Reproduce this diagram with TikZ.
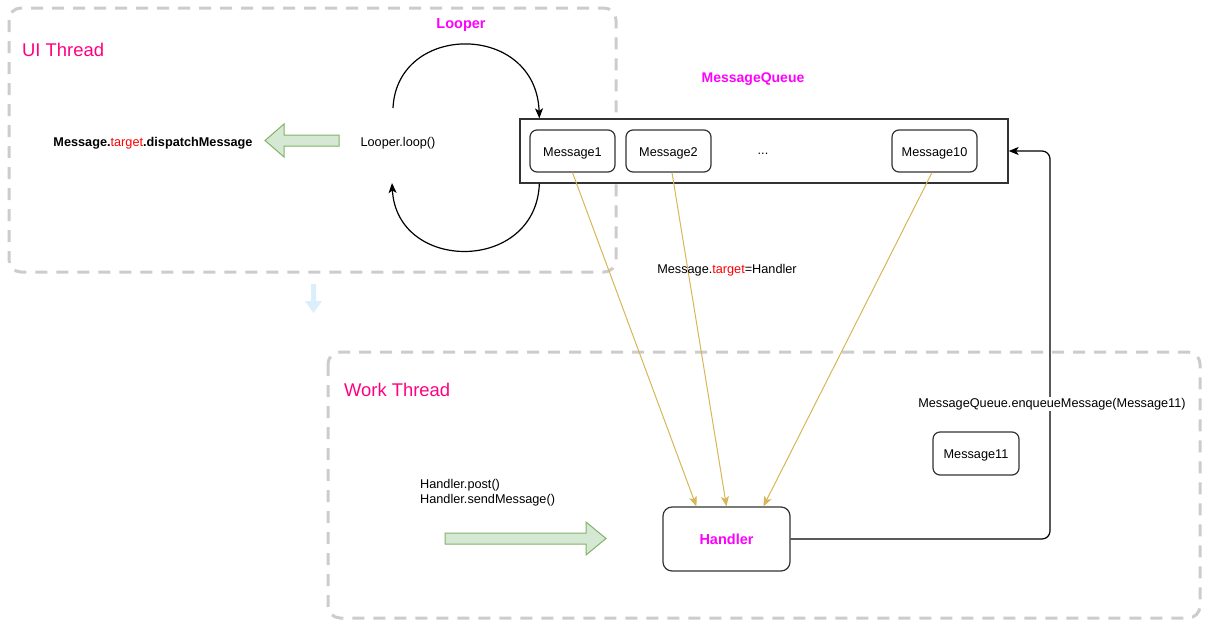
\documentclass[tikz,border=0pt]{standalone}
\usepackage{fontspec}
\setmainfont{Liberation Sans}
\usetikzlibrary{arrows.meta,calc}
\definecolor{dashgray}{HTML}{CCCCCC}
\definecolor{titlepink}{HTML}{FF0080}
\definecolor{mag}{HTML}{FF00FF}
\definecolor{tgtred}{HTML}{FF0000}
\definecolor{ylw}{HTML}{D6B656}
\definecolor{gfill}{HTML}{D5E8D4}
\definecolor{gdraw}{HTML}{82B366}
\definecolor{bfill}{HTML}{DAEEFC}
\definecolor{boxline}{HTML}{333333}
\newcommand\fsn{\fontsize{12.7}{15}\selectfont}
\newcommand\fst{\fontsize{18.4}{22}\selectfont}
\newcommand\fsb{\fontsize{14.5}{17}\selectfont\bfseries}
\begin{document}
\begin{tikzpicture}[x=1pt,y=-1pt,
  container/.style={draw=dashgray, line width=3pt, dash pattern=on 12pt off 9pt, rounded corners=12pt},
  msgbox/.style={draw=boxline, fill=white, rounded corners=7pt, line width=1.2pt, minimum width=85pt, minimum height=42pt, inner sep=0pt, font=\fsn, text height=11.5pt, text depth=1pt},
  txt/.style={inner sep=0pt, font=\fsn, yshift=-1.8pt},
  title/.style={inner sep=0pt, font=\fst, text=titlepink, anchor=west, yshift=-1pt},
  bold/.style={inner sep=0pt, font=\fsb, text=mag, yshift=-1.8pt},
  conn/.style={draw=black, line width=1.2pt, -{Stealth[length=10pt,width=8pt,inset=2.5pt]}},
  yconn/.style={draw=ylw, line width=1pt, -{Stealth[length=10pt,width=8pt,inset=2.5pt]}},
  garrow/.style={fill=gfill, draw=gdraw, line width=1pt}
]
\useasboundingbox (0,0) rectangle (1226,632);
% containers
\draw[container] (9,8) rectangle (616,272);
\draw[container] (328,352) rectangle (1200,618);
\node[title] (uit) at (22,49) {UI Thread};
\node[title] (wkt) at (344,389) {Work Thread};
% labels
\node[bold] (looper) at (461,23) {Looper};
\node[bold, font=\fontsize{14}{17}\selectfont\bfseries] (mqt) at (753,77) {MessageQueue};
\node[txt] (loop) at (398,141) {Looper.loop()};
\node[txt, font=\fsn\bfseries] (disp) at (153,141) {Message.\textcolor{tgtred}{\mdseries target}.dispatchMessage};
% message queue
\node[draw=boxline, fill=white, line width=1.3pt, minimum width=488pt, minimum height=64pt, inner sep=0pt] (mq) at (764,151) {};
\node[msgbox] (m1) at (572.5,151) {Message1};
\node[msgbox] (m2) at (668.5,151) {Message2};
\node[txt] (dots) at (763,152) {...};
\node[msgbox] (m10) at (934.5,151) {Message10};
% handler and message11
\node[msgbox, minimum width=127pt, minimum height=64pt, rounded corners=9pt, font=\fsb, text=mag] (handler) at (726.5,539) {Handler};
\node[msgbox, minimum width=86pt, minimum height=43pt] (m11) at (976,453.5) {Message11};
% loop arcs
\coordinate (ls) at (393,108);
\coordinate (le) at (392,183);
\coordinate (mqt1) at ($(mq.north west)+(20,0)$);
\coordinate (mqb1) at ($(mq.south west)+(20,0)$);
\draw[conn] (ls) .. controls (397,22) and (536,22) .. (mqt1);
\draw[conn] (mqb1) .. controls (536,273) and (397,273) .. (le);
% yellow arrows
\draw[yconn] (m1.south) -- ($(handler.north west)+(34,0)$);
\draw[yconn] ($(m2.south)+(3.5,0)$) -- (handler.north);
\draw[yconn] ($(m10.south)+(-2.5,0)$) -- ($(handler.north west)+(101,0)$);
\node[txt] (tgt) at (727,268) {Message.\textcolor{tgtred}{target}=Handler};
% handler to queue
\coordinate (c1) at (1050,539);
\coordinate (c2) at (1050,151);
\draw[conn, rounded corners=8pt] (handler.east) -- (c1) -- (c2) -- (mq.east);
\node[txt, fill=white, inner sep=1pt] (enq) at (1052,402) {MessageQueue.enqueueMessage(Message11)};
% Handler.post text
\node[txt, align=left, anchor=west, font=\fontsize{12.7}{14.5}\selectfont] (hp) at (420,491) {Handler.post()\\Handler.sendMessage()};
% green arrows
\draw[garrow] (339,135) -- (284,135) -- (284,124) -- (265,140.5) -- (284,157) -- (284,146) -- (339,146) -- cycle;
\draw[garrow] (445,533) -- (586,533) -- (586,522) -- (606,538.5) -- (586,555) -- (586,544) -- (445,544) -- cycle;
% blue down arrow
\fill[bfill] (311,284) -- (316,284) -- (316,301) -- (322,301) -- (313.5,313) -- (305,301) -- (311,301) -- cycle;
\end{tikzpicture}
\end{document}
